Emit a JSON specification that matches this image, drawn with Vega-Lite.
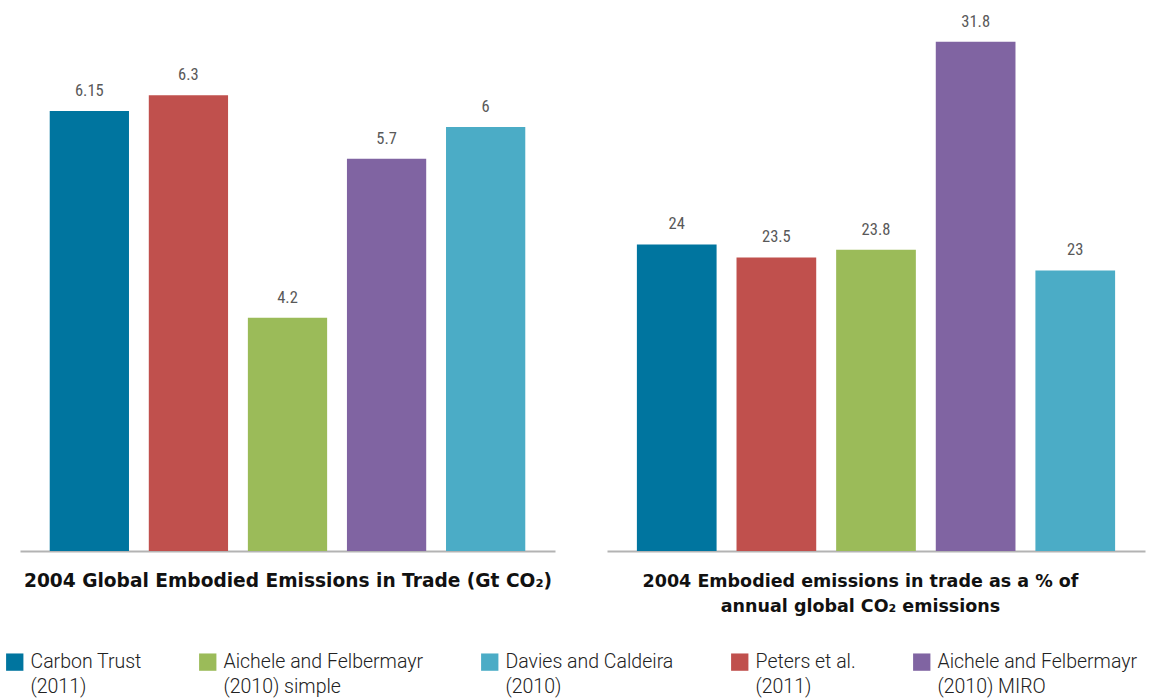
{
  "$schema": "https://vega.github.io/schema/vega-lite/v6.json",
  "padding": {"left": 5, "top": 13, "right": 6, "bottom": 5},
  "background": "white",
  "datasets": {
    "gt": [
      {"study": "Carbon Trust|(2011)", "value": 6.15},
      {"study": "Peters et al.|(2011)", "value": 6.3},
      {"study": "Aichele and Felbermayr|(2010) simple", "value": 4.2},
      {"study": "Aichele and Felbermayr|(2010) MIRO", "value": 5.7},
      {"study": "Davies and Caldeira|(2010)", "value": 6}
    ],
    "pct": [
      {"study": "Carbon Trust|(2011)", "value": 24},
      {"study": "Peters et al.|(2011)", "value": 23.5},
      {"study": "Aichele and Felbermayr|(2010) simple", "value": 23.8},
      {"study": "Aichele and Felbermayr|(2010) MIRO", "value": 31.8},
      {"study": "Davies and Caldeira|(2010)", "value": 23}
    ]
  },
  "spacing": 52,
  "resolve": {"scale": {"color": "shared"}, "legend": {"color": "shared"}},
  "hconcat": [
    {
      "width": 535,
      "height": 530,
      "data": {"name": "gt"},
      "encoding": {
        "x": {
          "field": "study", "type": "nominal", "sort": null,
          "scale": {"paddingInner": 0.2, "paddingOuter": 0.3},
          "axis": {
            "labels": false, "ticks": false, "domainColor": "#b3b3b3", "domainWidth": 2,
            "title": "2004 Global Embodied Emissions in Trade (Gt CO₂)",
            "titleFont": "DejaVu Sans", "titleFontSize": 18.6, "titleFontWeight": "bold",
            "titleColor": "#111111", "titlePadding": 20
          }
        },
        "y": {"field": "value", "type": "quantitative", "scale": {"domain": [2, 7], "zero": false}, "axis": null}
      },
      "layer": [
        {
          "mark": {"type": "bar"},
          "encoding": {
            "y2": {"datum": 2},
            "color": {"field": "study", "type": "nominal",
              "scale": {
                "domain": ["Carbon Trust|(2011)", "Aichele and Felbermayr|(2010) simple", "Davies and Caldeira|(2010)", "Peters et al.|(2011)", "Aichele and Felbermayr|(2010) MIRO"],
                "range": ["#00759F", "#9BBB59", "#4BACC6", "#C0504D", "#8064A2"]
              },
              "legend": {
                "orient": "none", "legendX": -15, "legendY": 631,
                "direction": "horizontal", "columns": 5, "title": null,
                "symbolType": "square", "symbolSize": 300, "symbolStrokeWidth": 0,
                "labelExpr": "split(datum.label, '|')",
                "labelFont": "Roboto", "labelFontWeight": 300, "labelFontSize": 19.5, "labelColor": "#222222",
                "labelLimit": 400, "columnPadding": 56, "labelOffset": 6,
                "encoding": {"labels": {"lineHeight": {"value": 25}}}
              }}
          }
        },
        {
          "mark": {"type": "text", "baseline": "bottom", "dy": -12, "font": "Roboto Condensed, Roboto", "fontSize": 16.5, "color": "#595959"},
          "encoding": {"text": {"field": "value", "type": "quantitative"}}
        }
      ]
    },
    {
      "width": 538,
      "height": 530,
      "data": {"name": "pct"},
      "encoding": {
        "x": {
          "field": "study", "type": "nominal", "sort": null,
          "scale": {"paddingInner": 0.2, "paddingOuter": 0.3},
          "axis": {
            "labels": false, "ticks": false, "domainColor": "#b3b3b3", "domainWidth": 2,
            "title": ["2004 Embodied emissions in trade as a % of", "annual global CO₂ emissions"],
            "titleFont": "DejaVu Sans", "titleFontSize": 17.5, "titleFontWeight": "bold",
            "titleColor": "#111111", "titlePadding": 21, "titleLineHeight": 25,
            "titleX": 253, "titleAlign": "center"
          }
        },
        "y": {"field": "value", "type": "quantitative", "scale": {"domain": [12.2, 32.6], "zero": false}, "axis": null}
      },
      "layer": [
        {
          "mark": {"type": "bar"},
          "encoding": {
            "y2": {"datum": 12.2},
            "color": {"field": "study", "type": "nominal"}
          }
        },
        {
          "mark": {"type": "text", "baseline": "bottom", "dy": -12, "font": "Roboto Condensed, Roboto", "fontSize": 16.5, "color": "#595959"},
          "encoding": {"text": {"field": "value", "type": "quantitative"}}
        }
      ]
    }
  ],
  "config": {"view": {"stroke": null}}
}
